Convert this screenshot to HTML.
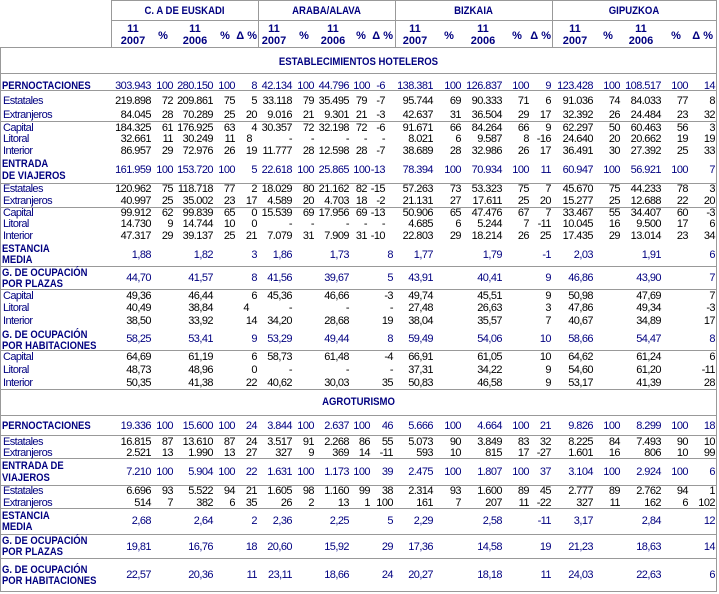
<!DOCTYPE html>
<html><head><meta charset="utf-8">
<style>
body{margin:0;width:719px;height:594px;position:relative;background:#fff;overflow:hidden;font-family:"Liberation Sans",Arial,sans-serif;font-size:11px;color:#000080}
.r{position:absolute;left:0;width:719px;height:12px;line-height:12px;white-space:nowrap}
.r i{position:absolute;top:0;width:50px;text-align:right;font-style:normal;letter-spacing:-0.55px}
.k i{color:#000}
.r i.L{left:3px;width:auto;text-align:left;color:#000080;letter-spacing:-0.6px}
.r i.LB{left:2px;width:auto;text-align:left;color:#000080;font-weight:bold;letter-spacing:0;transform:scaleX(0.86);transform-origin:0 0}
.hd{position:absolute;height:12px;line-height:12px;font-weight:bold;color:#000080;white-space:nowrap;text-align:center}
.sx{transform:scaleX(0.87)}
.hl{position:absolute;height:1px;background:#999}
.vl{position:absolute;width:1px;background:#999}
.c1{left:101px}.c2{left:123px}.c3{left:163px}.c4{left:185px}.c5{left:207px}
.c6{left:242px}.c7{left:264px}.c8{left:299px}.c9{left:320px}.c9h{left:317px}.c10{left:343px}.c10h{left:335px}
.c11{left:383px}.c12{left:411px}.c13{left:452px}.c14{left:479px}.c15{left:501px}
.c16{left:543px}.c17{left:570px}.c18{left:611px}.c19{left:638px}.c20{left:665px}
</style></head><body>

<!-- lines -->
<div class="hl" style="left:111px;width:606px;top:0"></div>
<div class="hl" style="left:111px;width:606px;top:20px"></div>
<div class="hl" style="left:0;width:717px;top:47px"></div>
<div class="hl" style="left:0;width:717px;top:73px"></div>
<div class="hl" style="left:0;width:717px;top:90px"></div>
<div class="hl" style="left:0;width:717px;top:121px"></div>
<div class="hl" style="left:0;width:717px;top:183px"></div>
<div class="hl" style="left:0;width:717px;top:207px"></div>
<div class="hl" style="left:0;width:717px;top:266px"></div>
<div class="hl" style="left:0;width:717px;top:289px"></div>
<div class="hl" style="left:0;width:717px;top:350px"></div>
<div class="hl" style="left:0;width:717px;top:389px"></div>
<div class="hl" style="left:0;width:717px;top:415px"></div>
<div class="hl" style="left:0;width:717px;top:435px"></div>
<div class="hl" style="left:0;width:717px;top:458px"></div>
<div class="hl" style="left:0;width:717px;top:485px"></div>
<div class="hl" style="left:0;width:717px;top:508px"></div>
<div class="hl" style="left:0;width:717px;top:534px"></div>
<div class="hl" style="left:0;width:717px;top:558px"></div>
<div class="hl" style="left:0;width:717px;top:591px"></div>
<div class="vl" style="left:0;top:47px;height:545px"></div>
<div class="vl" style="left:111px;top:0;height:48px"></div>
<div class="vl" style="left:258px;top:0;height:48px"></div>
<div class="vl" style="left:395px;top:0;height:48px"></div>
<div class="vl" style="left:552px;top:0;height:48px"></div>
<div class="vl" style="left:716px;top:0;height:592px"></div>

<!-- header -->
<div class="hd sx" style="left:111px;width:147px;top:5px">C. A DE EUSKADI</div>
<div class="hd sx" style="left:258px;width:137px;top:5px">ARABA/ALAVA</div>
<div class="hd sx" style="left:395px;width:157px;top:5px">BIZKAIA</div>
<div class="hd sx" style="left:552px;width:164px;top:5px">GIPUZKOA</div>

<div class="hd" style="left:113px;width:40px;top:23px">11</div><div class="hd" style="left:113px;width:40px;top:35px">2007</div>
<div class="hd" style="left:143px;width:40px;top:30px">%</div>
<div class="hd" style="left:175px;width:40px;top:23px">11</div><div class="hd" style="left:175px;width:40px;top:35px">2006</div>
<div class="hd" style="left:205px;width:40px;top:30px">%</div>
<div class="hd" style="left:217px;width:40px;top:30px;text-align:right">Δ %</div>

<div class="hd" style="left:254px;width:40px;top:23px">11</div><div class="hd" style="left:254px;width:40px;top:35px">2007</div>
<div class="hd" style="left:284px;width:40px;top:30px">%</div>
<div class="hd" style="left:313px;width:40px;top:23px">11</div><div class="hd" style="left:313px;width:40px;top:35px">2006</div>
<div class="hd" style="left:341px;width:40px;top:30px">%</div>
<div class="hd" style="left:353px;width:40px;top:30px;text-align:right">Δ %</div>

<div class="hd" style="left:395px;width:40px;top:23px">11</div><div class="hd" style="left:395px;width:40px;top:35px">2007</div>
<div class="hd" style="left:429px;width:40px;top:30px">%</div>
<div class="hd" style="left:463px;width:40px;top:23px">11</div><div class="hd" style="left:463px;width:40px;top:35px">2006</div>
<div class="hd" style="left:497px;width:40px;top:30px">%</div>
<div class="hd" style="left:511px;width:40px;top:30px;text-align:right">Δ %</div>

<div class="hd" style="left:555px;width:40px;top:23px">11</div><div class="hd" style="left:555px;width:40px;top:35px">2007</div>
<div class="hd" style="left:588px;width:40px;top:30px">%</div>
<div class="hd" style="left:621px;width:40px;top:23px">11</div><div class="hd" style="left:621px;width:40px;top:35px">2006</div>
<div class="hd" style="left:656px;width:40px;top:30px">%</div>
<div class="hd" style="left:673px;width:40px;top:30px;text-align:right">Δ %</div>

<div class="hd sx" style="left:0;width:717px;top:56px">ESTABLECIMIENTOS HOTELEROS</div>

<!-- HOTEL -->
<div class="r" style="top:80px"><i class="LB">PERNOCTACIONES</i><i class="c1">303.943</i><i class="c2">100</i><i class="c3">280.150</i><i class="c4">100</i><i class="c5">8</i><i class="c6">42.134</i><i class="c7">100</i><i class="c8">44.796</i><i class="c9">100</i><i class="c10h">-6</i><i class="c11">138.381</i><i class="c12">100</i><i class="c13">126.837</i><i class="c14">100</i><i class="c15">9</i><i class="c16">123.428</i><i class="c17">100</i><i class="c18">108.517</i><i class="c19">100</i><i class="c20">14</i></div>
<div class="r k" style="top:95px"><i class="L">Estatales</i><i class="c1">219.898</i><i class="c2">72</i><i class="c3">209.861</i><i class="c4">75</i><i class="c5">5</i><i class="c6">33.118</i><i class="c7">79</i><i class="c8">35.495</i><i class="c9h">79</i><i class="c10h">-7</i><i class="c11">95.744</i><i class="c12">69</i><i class="c13">90.333</i><i class="c14">71</i><i class="c15">6</i><i class="c16">91.036</i><i class="c17">74</i><i class="c18">84.033</i><i class="c19">77</i><i class="c20">8</i></div>
<div class="r k" style="top:109px"><i class="L">Extranjeros</i><i class="c1">84.045</i><i class="c2">28</i><i class="c3">70.289</i><i class="c4">25</i><i class="c5">20</i><i class="c6">9.016</i><i class="c7">21</i><i class="c8">9.301</i><i class="c9h">21</i><i class="c10h">-3</i><i class="c11">42.637</i><i class="c12">31</i><i class="c13">36.504</i><i class="c14">29</i><i class="c15">17</i><i class="c16">32.392</i><i class="c17">26</i><i class="c18">24.484</i><i class="c19">23</i><i class="c20">32</i></div>
<div class="r k" style="top:122px"><i class="L">Capital</i><i class="c1">184.325</i><i class="c2">61</i><i class="c3">176.925</i><i class="c4">63</i><i class="c5">4</i><i class="c6">30.357</i><i class="c7">72</i><i class="c8">32.198</i><i class="c9h">72</i><i class="c10h">-6</i><i class="c11">91.671</i><i class="c12">66</i><i class="c13">84.264</i><i class="c14">66</i><i class="c15">9</i><i class="c16">62.297</i><i class="c17">50</i><i class="c18">60.463</i><i class="c19">56</i><i class="c20">3</i></div>
<div class="r k" style="top:133px"><i class="L">Litoral</i><i class="c1">32.661</i><i class="c2">11</i><i class="c3">30.249</i><i class="c4">11</i><i style="left:202px">8</i><i class="c6">-</i><i class="c7">-</i><i class="c8">-</i><i class="c9h">-</i><i class="c10h">-</i><i class="c11">8.021</i><i class="c12">6</i><i class="c13">9.587</i><i class="c14">8</i><i class="c15">-16</i><i class="c16">24.640</i><i class="c17">20</i><i class="c18">20.662</i><i class="c19">19</i><i class="c20">19</i></div>
<div class="r k" style="top:145px"><i class="L">Interior</i><i class="c1">86.957</i><i class="c2">29</i><i class="c3">72.976</i><i class="c4">26</i><i class="c5">19</i><i class="c6">11.777</i><i class="c7">28</i><i class="c8">12.598</i><i class="c9h">28</i><i class="c10h">-7</i><i class="c11">38.689</i><i class="c12">28</i><i class="c13">32.986</i><i class="c14">26</i><i class="c15">17</i><i class="c16">36.491</i><i class="c17">30</i><i class="c18">27.392</i><i class="c19">25</i><i class="c20">33</i></div>
<div class="r" style="top:158px"><i class="LB">ENTRADA</i></div>
<div class="r" style="top:170px"><i class="LB">DE VIAJEROS</i></div>
<div class="r" style="top:164px"><i class="c1">161.959</i><i class="c2">100</i><i class="c3">153.720</i><i class="c4">100</i><i class="c5">5</i><i class="c6">22.618</i><i class="c7">100</i><i class="c8">25.865</i><i class="c9">100</i><i class="c10h">-13</i><i class="c11">78.394</i><i class="c12">100</i><i class="c13">70.934</i><i class="c14">100</i><i class="c15">11</i><i class="c16">60.947</i><i class="c17">100</i><i class="c18">56.921</i><i class="c19">100</i><i class="c20">7</i></div>
<div class="r k" style="top:183px"><i class="L">Estatales</i><i class="c1">120.962</i><i class="c2">75</i><i class="c3">118.718</i><i class="c4">77</i><i class="c5">2</i><i class="c6">18.029</i><i class="c7">80</i><i class="c8">21.162</i><i class="c9h">82</i><i class="c10h">-15</i><i class="c11">57.263</i><i class="c12">73</i><i class="c13">53.323</i><i class="c14">75</i><i class="c15">7</i><i class="c16">45.670</i><i class="c17">75</i><i class="c18">44.233</i><i class="c19">78</i><i class="c20">3</i></div>
<div class="r k" style="top:195px"><i class="L">Extranjeros</i><i class="c1">40.997</i><i class="c2">25</i><i class="c3">35.002</i><i class="c4">23</i><i class="c5">17</i><i class="c6">4.589</i><i class="c7">20</i><i class="c8">4.703</i><i class="c9h">18</i><i class="c10h">-2</i><i class="c11">21.131</i><i class="c12">27</i><i class="c13">17.611</i><i class="c14">25</i><i class="c15">20</i><i class="c16">15.277</i><i class="c17">25</i><i class="c18">12.688</i><i class="c19">22</i><i class="c20">20</i></div>
<div class="r k" style="top:207px"><i class="L">Capital</i><i class="c1">99.912</i><i class="c2">62</i><i class="c3">99.839</i><i class="c4">65</i><i class="c5">0</i><i class="c6">15.539</i><i class="c7">69</i><i class="c8">17.956</i><i class="c9h">69</i><i class="c10h">-13</i><i class="c11">50.906</i><i class="c12">65</i><i class="c13">47.476</i><i class="c14">67</i><i class="c15">7</i><i class="c16">33.467</i><i class="c17">55</i><i class="c18">34.407</i><i class="c19">60</i><i class="c20">-3</i></div>
<div class="r k" style="top:218px"><i class="L">Litoral</i><i class="c1">14.730</i><i class="c2">9</i><i class="c3">14.744</i><i class="c4">10</i><i class="c5">0</i><i class="c6">-</i><i class="c7">-</i><i class="c8">-</i><i class="c9h">-</i><i class="c10h">-</i><i class="c11">4.685</i><i class="c12">6</i><i class="c13">5.244</i><i class="c14">7</i><i class="c15">-11</i><i class="c16">10.045</i><i class="c17">16</i><i class="c18">9.500</i><i class="c19">17</i><i class="c20">6</i></div>
<div class="r k" style="top:230px"><i class="L">Interior</i><i class="c1">47.317</i><i class="c2">29</i><i class="c3">39.137</i><i class="c4">25</i><i class="c5">21</i><i class="c6">7.079</i><i class="c7">31</i><i class="c8">7.909</i><i class="c9h">31</i><i class="c10h">-10</i><i class="c11">22.803</i><i class="c12">29</i><i class="c13">18.214</i><i class="c14">26</i><i class="c15">25</i><i class="c16">17.435</i><i class="c17">29</i><i class="c18">13.014</i><i class="c19">23</i><i class="c20">34</i></div>
<div class="r" style="top:243px"><i class="LB">ESTANCIA</i></div>
<div class="r" style="top:254px"><i class="LB">MEDIA</i></div>
<div class="r" style="top:249px"><i class="c1">1,88</i><i class="c3">1,82</i><i class="c5">3</i><i class="c6">1,86</i><i class="c8">1,73</i><i class="c10">8</i><i class="c11">1,77</i><i class="c13">1,79</i><i class="c15">-1</i><i class="c16">2,03</i><i class="c18">1,91</i><i class="c20">6</i></div>
<div class="r" style="top:267px"><i class="LB">G. DE OCUPACIÓN</i></div>
<div class="r" style="top:278px"><i class="LB">POR PLAZAS</i></div>
<div class="r" style="top:272px"><i class="c1">44,70</i><i class="c3">41,57</i><i class="c5">8</i><i class="c6">41,56</i><i class="c8">39,67</i><i class="c10">5</i><i class="c11">43,91</i><i class="c13">40,41</i><i class="c15">9</i><i class="c16">46,86</i><i class="c18">43,90</i><i class="c20">7</i></div>
<div class="r k" style="top:290px"><i class="L">Capital</i><i class="c1">49,36</i><i class="c3">46,44</i><i class="c5">6</i><i class="c6">45,36</i><i class="c8">46,66</i><i class="c10">-3</i><i class="c11">49,74</i><i class="c13">45,51</i><i class="c15">9</i><i class="c16">50,98</i><i class="c18">47,69</i><i class="c20">7</i></div>
<div class="r k" style="top:302px"><i class="L">Litoral</i><i class="c1">40,49</i><i class="c3">38,84</i><i style="left:199px">4</i><i class="c6">-</i><i class="c8">-</i><i class="c10">-</i><i class="c11">27,48</i><i class="c13">26,63</i><i class="c15">3</i><i class="c16">47,86</i><i class="c18">49,34</i><i class="c20">-3</i></div>
<div class="r k" style="top:315px"><i class="L">Interior</i><i class="c1">38,50</i><i class="c3">33,92</i><i class="c5">14</i><i class="c6">34,20</i><i class="c8">28,68</i><i class="c10">19</i><i class="c11">38,04</i><i class="c13">35,57</i><i class="c15">7</i><i class="c16">40,67</i><i class="c18">34,89</i><i class="c20">17</i></div>
<div class="r" style="top:329px"><i class="LB">G. DE OCUPACIÓN</i></div>
<div class="r" style="top:340px"><i class="LB">POR HABITACIONES</i></div>
<div class="r" style="top:333px"><i class="c1">58,25</i><i class="c3">53,41</i><i class="c5">9</i><i class="c6">53,29</i><i class="c8">49,44</i><i class="c10">8</i><i class="c11">59,49</i><i class="c13">54,06</i><i class="c15">10</i><i class="c16">58,66</i><i class="c18">54,47</i><i class="c20">8</i></div>
<div class="r k" style="top:351px"><i class="L">Capital</i><i class="c1">64,69</i><i class="c3">61,19</i><i class="c5">6</i><i class="c6">58,73</i><i class="c8">61,48</i><i class="c10">-4</i><i class="c11">66,91</i><i class="c13">61,05</i><i class="c15">10</i><i class="c16">64,62</i><i class="c18">61,24</i><i class="c20">6</i></div>
<div class="r k" style="top:364px"><i class="L">Litoral</i><i class="c1">48,73</i><i class="c3">48,96</i><i class="c5">0</i><i class="c6">-</i><i class="c8">-</i><i class="c10">-</i><i class="c11">37,31</i><i class="c13">34,22</i><i class="c15">9</i><i class="c16">54,60</i><i class="c18">61,20</i><i class="c20">-11</i></div>
<div class="r k" style="top:377px"><i class="L">Interior</i><i class="c1">50,35</i><i class="c3">41,38</i><i class="c5">22</i><i class="c6">40,62</i><i class="c8">30,03</i><i class="c10">35</i><i class="c11">50,83</i><i class="c13">46,58</i><i class="c15">9</i><i class="c16">53,17</i><i class="c18">41,39</i><i class="c20">28</i></div>

<!-- AGRO -->
<div class="hd sx" style="left:0;width:717px;top:396px">AGROTURISMO</div>
<div class="r" style="top:420px"><i class="LB">PERNOCTACIONES</i><i class="c1">19.336</i><i class="c2">100</i><i class="c3">15.600</i><i class="c4">100</i><i class="c5">24</i><i class="c6">3.844</i><i class="c7">100</i><i class="c8">2.637</i><i class="c9">100</i><i class="c10">46</i><i class="c11">5.666</i><i class="c12">100</i><i class="c13">4.664</i><i class="c14">100</i><i class="c15">21</i><i class="c16">9.826</i><i class="c17">100</i><i class="c18">8.299</i><i class="c19">100</i><i class="c20">18</i></div>
<div class="r k" style="top:436px"><i class="L">Estatales</i><i class="c1">16.815</i><i class="c2">87</i><i class="c3">13.610</i><i class="c4">87</i><i class="c5">24</i><i class="c6">3.517</i><i class="c7">91</i><i class="c8">2.268</i><i class="c9">86</i><i class="c10">55</i><i class="c11">5.073</i><i class="c12">90</i><i class="c13">3.849</i><i class="c14">83</i><i class="c15">32</i><i class="c16">8.225</i><i class="c17">84</i><i class="c18">7.493</i><i class="c19">90</i><i class="c20">10</i></div>
<div class="r k" style="top:447px"><i class="L">Extranjeros</i><i class="c1">2.521</i><i class="c2">13</i><i class="c3">1.990</i><i class="c4">13</i><i class="c5">27</i><i class="c6">327</i><i class="c7">9</i><i class="c8">369</i><i class="c9">14</i><i class="c10">-11</i><i class="c11">593</i><i class="c12">10</i><i class="c13">815</i><i class="c14">17</i><i class="c15">-27</i><i class="c16">1.601</i><i class="c17">16</i><i class="c18">806</i><i class="c19">10</i><i class="c20">99</i></div>
<div class="r" style="top:460px"><i class="LB">ENTRADA DE</i></div>
<div class="r" style="top:472px"><i class="LB">VIAJEROS</i></div>
<div class="r" style="top:466px"><i class="c1">7.210</i><i class="c2">100</i><i class="c3">5.904</i><i class="c4">100</i><i class="c5">22</i><i class="c6">1.631</i><i class="c7">100</i><i class="c8">1.173</i><i class="c9">100</i><i class="c10">39</i><i class="c11">2.475</i><i class="c12">100</i><i class="c13">1.807</i><i class="c14">100</i><i class="c15">37</i><i class="c16">3.104</i><i class="c17">100</i><i class="c18">2.924</i><i class="c19">100</i><i class="c20">6</i></div>
<div class="r k" style="top:485px"><i class="L">Estatales</i><i class="c1">6.696</i><i class="c2">93</i><i class="c3">5.522</i><i class="c4">94</i><i class="c5">21</i><i class="c6">1.605</i><i class="c7">98</i><i class="c8">1.160</i><i class="c9">99</i><i class="c10">38</i><i class="c11">2.314</i><i class="c12">93</i><i class="c13">1.600</i><i class="c14">89</i><i class="c15">45</i><i class="c16">2.777</i><i class="c17">89</i><i class="c18">2.762</i><i class="c19">94</i><i class="c20">1</i></div>
<div class="r k" style="top:497px"><i class="L">Extranjeros</i><i class="c1">514</i><i class="c2">7</i><i class="c3">382</i><i class="c4">6</i><i class="c5">35</i><i class="c6">26</i><i class="c7">2</i><i class="c8">13</i><i class="c9">1</i><i class="c10">100</i><i class="c11">161</i><i class="c12">7</i><i class="c13">207</i><i class="c14">11</i><i class="c15">-22</i><i class="c16">327</i><i class="c17">11</i><i class="c18">162</i><i class="c19">6</i><i class="c20">102</i></div>
<div class="r" style="top:510px"><i class="LB">ESTANCIA</i></div>
<div class="r" style="top:521px"><i class="LB">MEDIA</i></div>
<div class="r" style="top:515px"><i class="c1">2,68</i><i class="c3">2,64</i><i class="c5">2</i><i class="c6">2,36</i><i class="c8">2,25</i><i class="c10">5</i><i class="c11">2,29</i><i class="c13">2,58</i><i class="c15">-11</i><i class="c16">3,17</i><i class="c18">2,84</i><i class="c20">12</i></div>
<div class="r" style="top:535px"><i class="LB">G. DE OCUPACIÓN</i></div>
<div class="r" style="top:546px"><i class="LB">POR PLAZAS</i></div>
<div class="r" style="top:541px"><i class="c1">19,81</i><i class="c3">16,76</i><i class="c5">18</i><i class="c6">20,60</i><i class="c8">15,92</i><i class="c10">29</i><i class="c11">17,36</i><i class="c13">14,58</i><i class="c15">19</i><i class="c16">21,23</i><i class="c18">18,63</i><i class="c20">14</i></div>
<div class="r" style="top:564px"><i class="LB">G. DE OCUPACIÓN</i></div>
<div class="r" style="top:575px"><i class="LB">POR HABITACIONES</i></div>
<div class="r" style="top:569px"><i class="c1">22,57</i><i class="c3">20,36</i><i class="c5">11</i><i class="c6">23,11</i><i class="c8">18,66</i><i class="c10">24</i><i class="c11">20,27</i><i class="c13">18,18</i><i class="c15">11</i><i class="c16">24,03</i><i class="c18">22,63</i><i class="c20">6</i></div>

</body></html>
